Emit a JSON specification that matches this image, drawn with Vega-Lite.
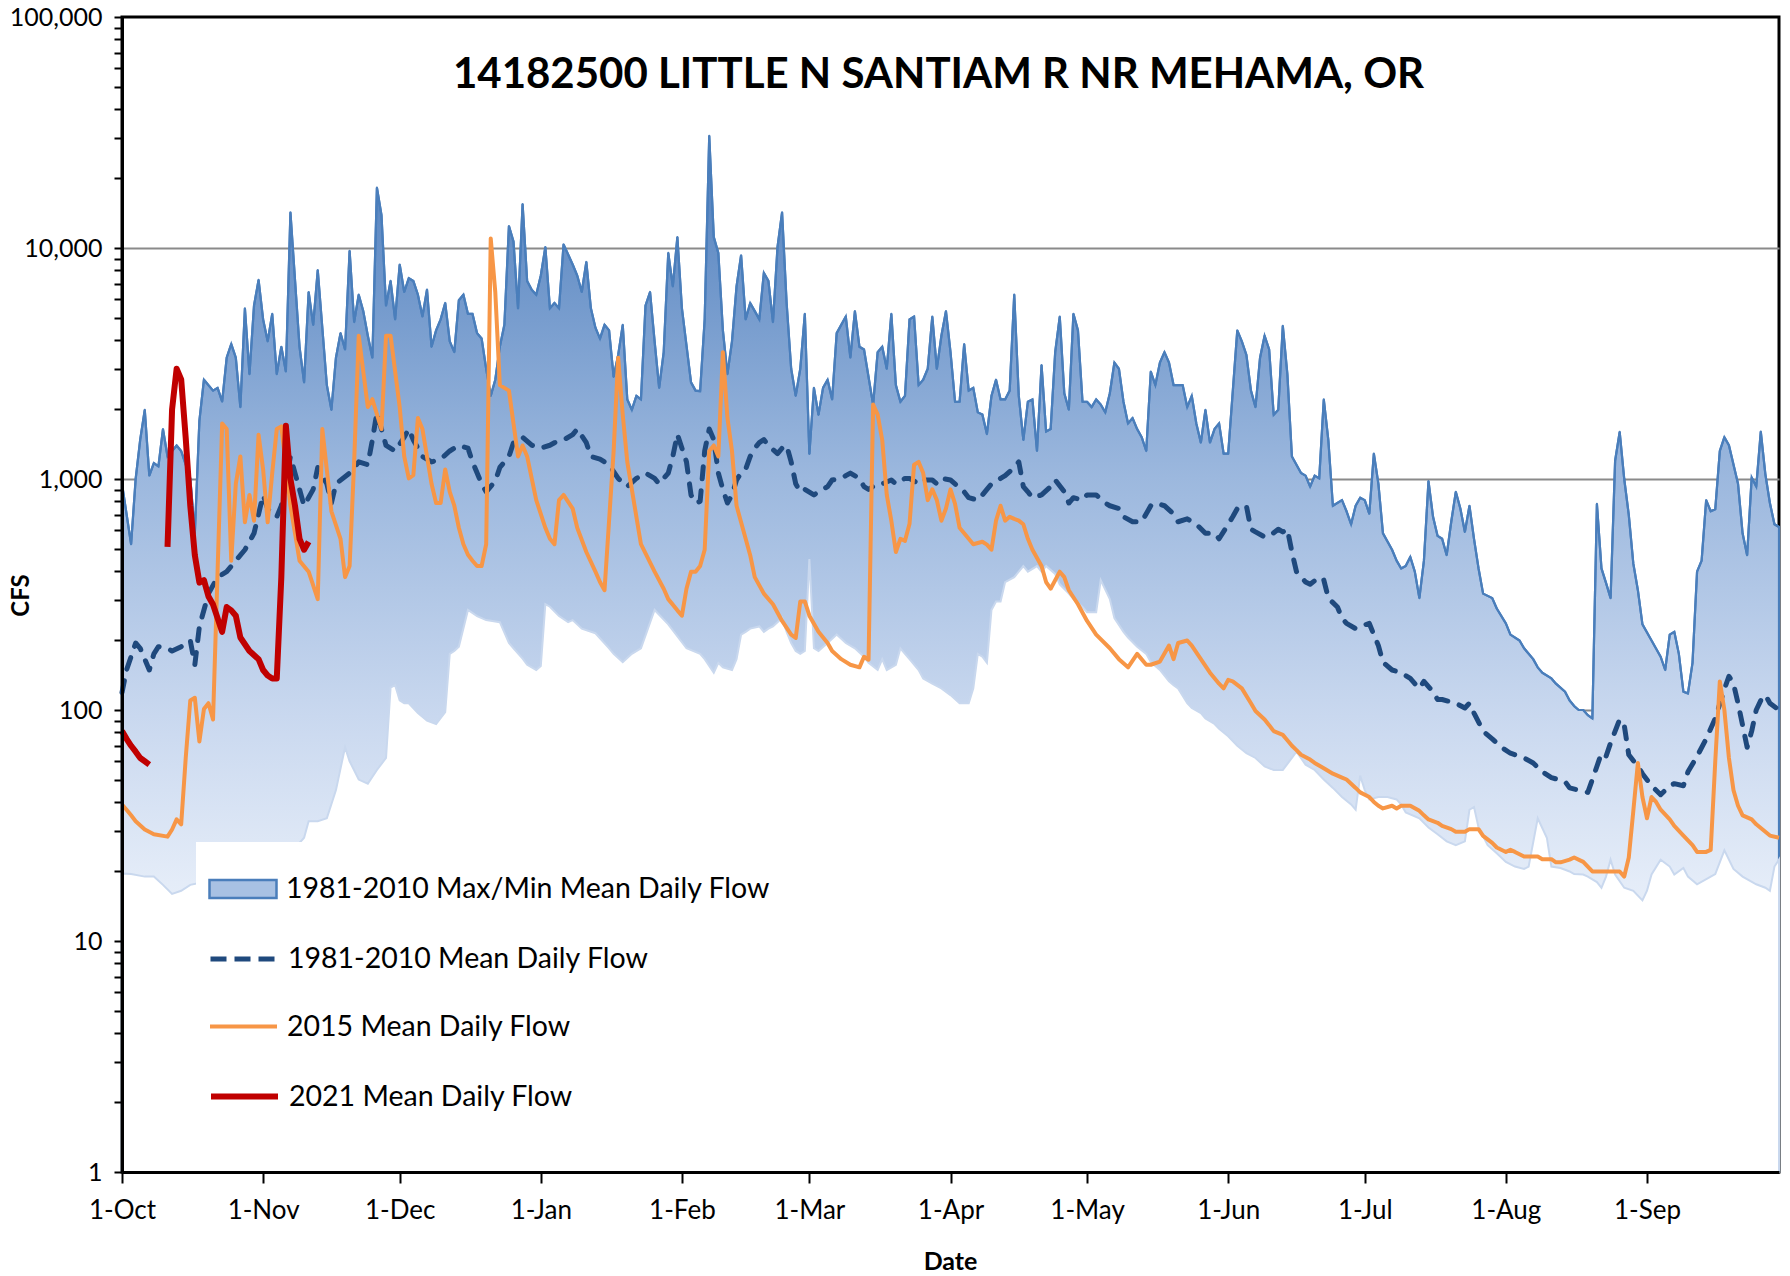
{
  "$schema": "https://vega.github.io/schema/vega-lite/v6.json",
  "width": 1657,
  "height": 1155,
  "autosize": {"type": "none"},
  "padding": {"left": 122, "top": 17, "right": 11, "bottom": 104},
  "background": "white",
  "title": {"text": "14182500 LITTLE N SANTIAM R NR MEHAMA, OR", "frame": "group", "anchor": "middle", "orient": "top", "offset": -72, "dy": 53, "baseline": "alphabetic", "font": "Lato", "fontSize": 42, "fontWeight": "bold", "color": "black", "dx": -12},
  "config": {
    "view": {"stroke": "black", "strokeWidth": 3},
    "axis": {"labelFont": "Lato", "labelColor": "black", "titleFont": "Lato", "titleColor": "black", "titleFontWeight": "bold", "domainColor": "black", "domainWidth": 3, "tickColor": "black", "tickWidth": 2},
    "legend": {"fillColor": "white", "padding": 12, "labelFont": "Lato", "labelFontSize": 28.5, "labelColor": "black", "labelLimit": 800, "labelOffset": 8, "symbolSize": 4489}
  },
  "resolve": {"scale": {"color": "independent"}, "axis": {"y": "independent"}},
  "datasets": {
    "maxflow": [
      {"date":"2014-10-01","cfs":953},{"date":"2014-10-03","cfs":522},{"date":"2014-10-04","cfs":1000},{"date":"2014-10-05","cfs":1480},{"date":"2014-10-06","cfs":1993},{"date":"2014-10-07","cfs":1034},{"date":"2014-10-08","cfs":1172},{"date":"2014-10-09","cfs":1134},{"date":"2014-10-10","cfs":1645},{"date":"2014-10-11","cfs":1252},{"date":"2014-10-13","cfs":1397},{"date":"2014-10-14","cfs":1322},{"date":"2014-10-16","cfs":1006},{"date":"2014-10-17","cfs":582},{"date":"2014-10-18","cfs":1786},{"date":"2014-10-19","cfs":2690},{"date":"2014-10-21","cfs":2413},{"date":"2014-10-22","cfs":2480},{"date":"2014-10-23","cfs":2163},{"date":"2014-10-24","cfs":3350},{"date":"2014-10-25","cfs":3840},{"date":"2014-10-26","cfs":3350},{"date":"2014-10-27","cfs":2048},{"date":"2014-10-28","cfs":5480},{"date":"2014-10-29","cfs":2843},{"date":"2014-10-30","cfs":5630},{"date":"2014-10-31","cfs":7280},
      {"date":"2014-11-01","cfs":4910},{"date":"2014-11-02","cfs":3945},{"date":"2014-11-03","cfs":5185},{"date":"2014-11-04","cfs":2843},{"date":"2014-11-05","cfs":3735},{"date":"2014-11-06","cfs":2920},{"date":"2014-11-07","cfs":14260},{"date":"2014-11-09","cfs":3735},{"date":"2014-11-10","cfs":2620},{"date":"2014-11-11","cfs":6450},{"date":"2014-11-12","cfs":4650},{"date":"2014-11-13","cfs":8030},{"date":"2014-11-15","cfs":2550},{"date":"2014-11-16","cfs":1993},{"date":"2014-11-17","cfs":3350},{"date":"2014-11-18","cfs":4280},{"date":"2014-11-19","cfs":3635},{"date":"2014-11-20","cfs":9720},{"date":"2014-11-21","cfs":4780},{"date":"2014-11-22","cfs":6280},{"date":"2014-11-23","cfs":5330},{"date":"2014-11-24","cfs":4170},{"date":"2014-11-25","cfs":3350},{"date":"2014-11-26","cfs":18240},{"date":"2014-11-27","cfs":13880},{"date":"2014-11-28","cfs":5630},{"date":"2014-11-29","cfs":7200},{"date":"2014-11-30","cfs":4910},
      {"date":"2014-12-01","cfs":8485},{"date":"2014-12-02","cfs":6450},{"date":"2014-12-03","cfs":7400},{"date":"2014-12-04","cfs":7200},{"date":"2014-12-05","cfs":6280},{"date":"2014-12-06","cfs":5050},{"date":"2014-12-07","cfs":6600},{"date":"2014-12-08","cfs":3735},{"date":"2014-12-09","cfs":4400},{"date":"2014-12-10","cfs":4910},{"date":"2014-12-11","cfs":5780},{"date":"2014-12-12","cfs":3945},{"date":"2014-12-13","cfs":3540},{"date":"2014-12-14","cfs":5940},{"date":"2014-12-15","cfs":6280},{"date":"2014-12-16","cfs":5185},{"date":"2014-12-17","cfs":5185},{"date":"2014-12-18","cfs":4280},{"date":"2014-12-19","cfs":4055},{"date":"2014-12-20","cfs":3000},{"date":"2014-12-21","cfs":2290},{"date":"2014-12-22","cfs":2690},{"date":"2014-12-23","cfs":3735},{"date":"2014-12-24","cfs":4650},{"date":"2014-12-25","cfs":12450},{"date":"2014-12-26","cfs":10670},{"date":"2014-12-27","cfs":5480},{"date":"2014-12-28","cfs":15500},{"date":"2014-12-29","cfs":7200},{"date":"2014-12-30","cfs":6600},{"date":"2014-12-31","cfs":6280},
      {"date":"2015-01-01","cfs":7600},{"date":"2015-01-02","cfs":10100},{"date":"2015-01-03","cfs":5480},{"date":"2015-01-04","cfs":5780},{"date":"2015-01-05","cfs":5480},{"date":"2015-01-06","cfs":10370},{"date":"2015-01-08","cfs":8485},{"date":"2015-01-09","cfs":7600},{"date":"2015-01-10","cfs":6450},{"date":"2015-01-11","cfs":8700},{"date":"2015-01-12","cfs":5480},{"date":"2015-01-13","cfs":4520},{"date":"2015-01-14","cfs":4055},{"date":"2015-01-15","cfs":4650},{"date":"2015-01-16","cfs":4400},{"date":"2015-01-17","cfs":2770},{"date":"2015-01-18","cfs":3445},{"date":"2015-01-19","cfs":4650},{"date":"2015-01-20","cfs":2210},{"date":"2015-01-21","cfs":1993},{"date":"2015-01-22","cfs":2290},{"date":"2015-01-23","cfs":2210},{"date":"2015-01-24","cfs":5630},{"date":"2015-01-25","cfs":6450},{"date":"2015-01-26","cfs":3945},{"date":"2015-01-27","cfs":2480},{"date":"2015-01-28","cfs":3540},{"date":"2015-01-29","cfs":9520},{"date":"2015-01-30","cfs":6820},{"date":"2015-01-31","cfs":11150},
      {"date":"2015-02-01","cfs":5480},{"date":"2015-02-03","cfs":2620},{"date":"2015-02-04","cfs":2413},{"date":"2015-02-05","cfs":2400},{"date":"2015-02-06","cfs":4910},{"date":"2015-02-07","cfs":30600},{"date":"2015-02-08","cfs":11150},{"date":"2015-02-09","cfs":9520},{"date":"2015-02-10","cfs":4400},{"date":"2015-02-11","cfs":2843},{"date":"2015-02-12","cfs":3945},{"date":"2015-02-13","cfs":6820},{"date":"2015-02-14","cfs":9300},{"date":"2015-02-15","cfs":4910},{"date":"2015-02-16","cfs":5780},{"date":"2015-02-17","cfs":5330},{"date":"2015-02-18","cfs":4910},{"date":"2015-02-19","cfs":7800},{"date":"2015-02-20","cfs":7200},{"date":"2015-02-21","cfs":4780},{"date":"2015-02-22","cfs":10100},{"date":"2015-02-23","cfs":14260},{"date":"2015-02-24","cfs":5780},{"date":"2015-02-25","cfs":3000},{"date":"2015-02-26","cfs":2290},{"date":"2015-02-27","cfs":3000},{"date":"2015-02-28","cfs":5185},
      {"date":"2015-03-01","cfs":1283},{"date":"2015-03-02","cfs":2480},{"date":"2015-03-03","cfs":1895},{"date":"2015-03-04","cfs":2480},{"date":"2015-03-05","cfs":2690},{"date":"2015-03-06","cfs":2210},{"date":"2015-03-07","cfs":4280},{"date":"2015-03-09","cfs":5050},{"date":"2015-03-10","cfs":3350},{"date":"2015-03-11","cfs":5330},{"date":"2015-03-12","cfs":3735},{"date":"2015-03-13","cfs":3635},{"date":"2015-03-15","cfs":2100},{"date":"2015-03-16","cfs":3540},{"date":"2015-03-17","cfs":3735},{"date":"2015-03-18","cfs":3000},{"date":"2015-03-19","cfs":5185},{"date":"2015-03-20","cfs":2550},{"date":"2015-03-21","cfs":2160},{"date":"2015-03-22","cfs":2290},{"date":"2015-03-23","cfs":4910},{"date":"2015-03-24","cfs":5050},{"date":"2015-03-25","cfs":2550},{"date":"2015-03-26","cfs":2690},{"date":"2015-03-27","cfs":3000},{"date":"2015-03-28","cfs":5050},{"date":"2015-03-29","cfs":3000},{"date":"2015-03-30","cfs":4170},{"date":"2015-03-31","cfs":5330},
      {"date":"2015-04-01","cfs":3540},{"date":"2015-04-02","cfs":2160},{"date":"2015-04-03","cfs":2160},{"date":"2015-04-04","cfs":3840},{"date":"2015-04-05","cfs":2413},{"date":"2015-04-06","cfs":2480},{"date":"2015-04-07","cfs":1943},{"date":"2015-04-08","cfs":1900},{"date":"2015-04-09","cfs":1565},{"date":"2015-04-10","cfs":2290},{"date":"2015-04-11","cfs":2690},{"date":"2015-04-12","cfs":2210},{"date":"2015-04-13","cfs":2210},{"date":"2015-04-14","cfs":2413},{"date":"2015-04-15","cfs":6280},{"date":"2015-04-16","cfs":2290},{"date":"2015-04-17","cfs":1475},{"date":"2015-04-18","cfs":2160},{"date":"2015-04-19","cfs":2210},{"date":"2015-04-20","cfs":1322},{"date":"2015-04-21","cfs":3110},{"date":"2015-04-22","cfs":1605},{"date":"2015-04-23","cfs":1645},{"date":"2015-04-24","cfs":3540},{"date":"2015-04-25","cfs":5050},{"date":"2015-04-26","cfs":2350},{"date":"2015-04-27","cfs":1993},{"date":"2015-04-28","cfs":5185},{"date":"2015-04-29","cfs":4400},{"date":"2015-04-30","cfs":2160},
      {"date":"2015-05-01","cfs":2160},{"date":"2015-05-02","cfs":2048},{"date":"2015-05-03","cfs":2210},{"date":"2015-05-04","cfs":2100},{"date":"2015-05-05","cfs":1943},{"date":"2015-05-06","cfs":2350},{"date":"2015-05-07","cfs":3190},{"date":"2015-05-08","cfs":3000},{"date":"2015-05-09","cfs":2160},{"date":"2015-05-10","cfs":1740},{"date":"2015-05-11","cfs":1836},{"date":"2015-05-12","cfs":1645},{"date":"2015-05-13","cfs":1517},{"date":"2015-05-14","cfs":1322},{"date":"2015-05-15","cfs":2920},{"date":"2015-05-16","cfs":2550},{"date":"2015-05-17","cfs":3190},{"date":"2015-05-18","cfs":3540},{"date":"2015-05-19","cfs":3190},{"date":"2015-05-20","cfs":2550},{"date":"2015-05-22","cfs":2550},{"date":"2015-05-23","cfs":2048},{"date":"2015-05-24","cfs":2290},{"date":"2015-05-25","cfs":1740},{"date":"2015-05-26","cfs":1436},{"date":"2015-05-27","cfs":1993},{"date":"2015-05-28","cfs":1436},{"date":"2015-05-29","cfs":1645},{"date":"2015-05-30","cfs":1740},{"date":"2015-05-31","cfs":1287},
      {"date":"2015-06-01","cfs":1287},{"date":"2015-06-03","cfs":4400},{"date":"2015-06-04","cfs":3945},{"date":"2015-06-05","cfs":3445},{"date":"2015-06-06","cfs":2413},{"date":"2015-06-07","cfs":2048},{"date":"2015-06-08","cfs":3350},{"date":"2015-06-09","cfs":4170},{"date":"2015-06-10","cfs":3635},{"date":"2015-06-11","cfs":1895},{"date":"2015-06-12","cfs":1993},{"date":"2015-06-13","cfs":4600},{"date":"2015-06-14","cfs":2843},{"date":"2015-06-15","cfs":1252},{"date":"2015-06-16","cfs":1153},{"date":"2015-06-17","cfs":1061},{"date":"2015-06-18","cfs":1034},{"date":"2015-06-19","cfs":927},{"date":"2015-06-20","cfs":1034},{"date":"2015-06-21","cfs":1006},{"date":"2015-06-22","cfs":2210},{"date":"2015-06-23","cfs":1475},{"date":"2015-06-24","cfs":766},{"date":"2015-06-26","cfs":810},{"date":"2015-06-27","cfs":725},{"date":"2015-06-28","cfs":637},{"date":"2015-06-29","cfs":766},{"date":"2015-06-30","cfs":830},
      {"date":"2015-07-01","cfs":810},{"date":"2015-07-02","cfs":707},{"date":"2015-07-03","cfs":1287},{"date":"2015-07-04","cfs":953},{"date":"2015-07-05","cfs":582},{"date":"2015-07-07","cfs":494},{"date":"2015-07-08","cfs":443},{"date":"2015-07-09","cfs":410},{"date":"2015-07-10","cfs":420},{"date":"2015-07-11","cfs":460},{"date":"2015-07-12","cfs":397},{"date":"2015-07-13","cfs":305},{"date":"2015-07-14","cfs":443},{"date":"2015-07-15","cfs":980},{"date":"2015-07-16","cfs":686},{"date":"2015-07-17","cfs":567},{"date":"2015-07-18","cfs":551},{"date":"2015-07-19","cfs":468},{"date":"2015-07-20","cfs":653},{"date":"2015-07-21","cfs":880},{"date":"2015-07-22","cfs":745},{"date":"2015-07-23","cfs":590},{"date":"2015-07-24","cfs":766},{"date":"2015-07-25","cfs":551},{"date":"2015-07-26","cfs":410},{"date":"2015-07-27","cfs":319},{"date":"2015-07-29","cfs":305},{"date":"2015-07-30","cfs":275},
      {"date":"2015-08-01","cfs":237},{"date":"2015-08-02","cfs":212},{"date":"2015-08-04","cfs":200},{"date":"2015-08-05","cfs":185},{"date":"2015-08-07","cfs":166},{"date":"2015-08-08","cfs":153},{"date":"2015-08-09","cfs":145},{"date":"2015-08-11","cfs":137},{"date":"2015-08-12","cfs":130},{"date":"2015-08-14","cfs":120},{"date":"2015-08-15","cfs":110},{"date":"2015-08-16","cfs":104},{"date":"2015-08-17","cfs":100},{"date":"2015-08-18","cfs":100},{"date":"2015-08-19","cfs":95},{"date":"2015-08-20","cfs":92},{"date":"2015-08-21","cfs":780},{"date":"2015-08-22","cfs":410},{"date":"2015-08-23","cfs":355},{"date":"2015-08-24","cfs":305},{"date":"2015-08-25","cfs":1200},{"date":"2015-08-26","cfs":1600},{"date":"2015-08-27","cfs":1000},{"date":"2015-08-28","cfs":700},{"date":"2015-08-29","cfs":430},{"date":"2015-08-30","cfs":330},{"date":"2015-08-31","cfs":235},
      {"date":"2015-09-02","cfs":200},{"date":"2015-09-04","cfs":170},{"date":"2015-09-05","cfs":149},{"date":"2015-09-06","cfs":212},{"date":"2015-09-07","cfs":218},{"date":"2015-09-08","cfs":175},{"date":"2015-09-09","cfs":120},{"date":"2015-09-10","cfs":118},{"date":"2015-09-11","cfs":160},{"date":"2015-09-12","cfs":397},{"date":"2015-09-13","cfs":443},{"date":"2015-09-14","cfs":810},{"date":"2015-09-15","cfs":725},{"date":"2015-09-16","cfs":740},{"date":"2015-09-17","cfs":1322},{"date":"2015-09-18","cfs":1517},{"date":"2015-09-19","cfs":1400},{"date":"2015-09-21","cfs":953},{"date":"2015-09-22","cfs":582},{"date":"2015-09-23","cfs":468},{"date":"2015-09-24","cfs":1015},{"date":"2015-09-25","cfs":927},{"date":"2015-09-26","cfs":1605},{"date":"2015-09-27","cfs":1050},{"date":"2015-09-28","cfs":787},{"date":"2015-09-29","cfs":637},{"date":"2015-09-30","cfs":620}
    ],
    "minflow": [
      {"date":"2014-10-01","cfs":19.6},{"date":"2014-10-03","cfs":19.5},{"date":"2014-10-06","cfs":19},{"date":"2014-10-08","cfs":19},{"date":"2014-10-10","cfs":17.5},{"date":"2014-10-12","cfs":16},{"date":"2014-10-14","cfs":16.5},{"date":"2014-10-16","cfs":17.5},{"date":"2014-10-19","cfs":18},{"date":"2014-10-23","cfs":19},{"date":"2014-10-27","cfs":20},{"date":"2014-10-31","cfs":23},
      {"date":"2014-11-02","cfs":25},{"date":"2014-11-04","cfs":22},{"date":"2014-11-07","cfs":24},{"date":"2014-11-10","cfs":28},{"date":"2014-11-11","cfs":33},{"date":"2014-11-13","cfs":33},{"date":"2014-11-15","cfs":34},{"date":"2014-11-17","cfs":45},{"date":"2014-11-19","cfs":69},{"date":"2014-11-20","cfs":60},{"date":"2014-11-22","cfs":50},{"date":"2014-11-24","cfs":48},{"date":"2014-11-26","cfs":55},{"date":"2014-11-28","cfs":62},{"date":"2014-11-29","cfs":125},{"date":"2014-11-30","cfs":128},
      {"date":"2014-12-01","cfs":110},{"date":"2014-12-02","cfs":107},{"date":"2014-12-03","cfs":107},{"date":"2014-12-05","cfs":97},{"date":"2014-12-07","cfs":90},{"date":"2014-12-09","cfs":87},{"date":"2014-12-11","cfs":98},{"date":"2014-12-12","cfs":175},{"date":"2014-12-13","cfs":180},{"date":"2014-12-14","cfs":188},{"date":"2014-12-16","cfs":271},{"date":"2014-12-18","cfs":255},{"date":"2014-12-20","cfs":245},{"date":"2014-12-23","cfs":240},{"date":"2014-12-25","cfs":195},{"date":"2014-12-26","cfs":185},{"date":"2014-12-28","cfs":167},{"date":"2014-12-29","cfs":157},{"date":"2014-12-31","cfs":149},
      {"date":"2015-01-01","cfs":155},{"date":"2015-01-02","cfs":287},{"date":"2015-01-03","cfs":280},{"date":"2015-01-05","cfs":255},{"date":"2015-01-07","cfs":240},{"date":"2015-01-08","cfs":245},{"date":"2015-01-10","cfs":225},{"date":"2015-01-13","cfs":215},{"date":"2015-01-16","cfs":185},{"date":"2015-01-17","cfs":175},{"date":"2015-01-19","cfs":161},{"date":"2015-01-21","cfs":175},{"date":"2015-01-23","cfs":185},{"date":"2015-01-26","cfs":271},{"date":"2015-01-29","cfs":235},
      {"date":"2015-02-02","cfs":185},{"date":"2015-02-05","cfs":175},{"date":"2015-02-06","cfs":166},{"date":"2015-02-08","cfs":145},{"date":"2015-02-09","cfs":160},{"date":"2015-02-10","cfs":153},{"date":"2015-02-12","cfs":149},{"date":"2015-02-13","cfs":166},{"date":"2015-02-14","cfs":212},{"date":"2015-02-15","cfs":218},{"date":"2015-02-16","cfs":225},{"date":"2015-02-18","cfs":230},{"date":"2015-02-19","cfs":218},{"date":"2015-02-20","cfs":225},{"date":"2015-02-21","cfs":230},{"date":"2015-02-23","cfs":250},{"date":"2015-02-24","cfs":218},{"date":"2015-02-25","cfs":195},{"date":"2015-02-26","cfs":180},{"date":"2015-02-27","cfs":175},{"date":"2015-02-28","cfs":180},
      {"date":"2015-03-01","cfs":450},{"date":"2015-03-02","cfs":185},{"date":"2015-03-03","cfs":180},{"date":"2015-03-05","cfs":195},{"date":"2015-03-07","cfs":212},{"date":"2015-03-09","cfs":195},{"date":"2015-03-11","cfs":185},{"date":"2015-03-13","cfs":170},{"date":"2015-03-14","cfs":160},{"date":"2015-03-16","cfs":149},{"date":"2015-03-17","cfs":166},{"date":"2015-03-18","cfs":149},{"date":"2015-03-20","cfs":157},{"date":"2015-03-21","cfs":185},{"date":"2015-03-22","cfs":175},{"date":"2015-03-23","cfs":166},{"date":"2015-03-25","cfs":149},{"date":"2015-03-26","cfs":137},{"date":"2015-03-28","cfs":130},{"date":"2015-03-30","cfs":124},
      {"date":"2015-04-01","cfs":116},{"date":"2015-04-03","cfs":107},{"date":"2015-04-05","cfs":107},{"date":"2015-04-06","cfs":124},{"date":"2015-04-07","cfs":175},{"date":"2015-04-08","cfs":170},{"date":"2015-04-09","cfs":160},{"date":"2015-04-10","cfs":271},{"date":"2015-04-11","cfs":295},{"date":"2015-04-12","cfs":295},{"date":"2015-04-13","cfs":358},{"date":"2015-04-15","cfs":376},{"date":"2015-04-16","cfs":397},{"date":"2015-04-17","cfs":420},{"date":"2015-04-18","cfs":397},{"date":"2015-04-20","cfs":420},{"date":"2015-04-21","cfs":397},{"date":"2015-04-22","cfs":420},{"date":"2015-04-24","cfs":388},{"date":"2015-04-25","cfs":350},{"date":"2015-04-27","cfs":319},{"date":"2015-04-28","cfs":302},{"date":"2015-04-30","cfs":279},
      {"date":"2015-05-01","cfs":265},{"date":"2015-05-03","cfs":265},{"date":"2015-05-04","cfs":365},{"date":"2015-05-06","cfs":302},{"date":"2015-05-07","cfs":250},{"date":"2015-05-09","cfs":218},{"date":"2015-05-10","cfs":206},{"date":"2015-05-12","cfs":188},{"date":"2015-05-14","cfs":175},{"date":"2015-05-15","cfs":161},{"date":"2015-05-17","cfs":149},{"date":"2015-05-19","cfs":133},{"date":"2015-05-20","cfs":128},{"date":"2015-05-21","cfs":124},{"date":"2015-05-23","cfs":107},{"date":"2015-05-24","cfs":102},{"date":"2015-05-26","cfs":97},{"date":"2015-05-27","cfs":92},{"date":"2015-05-29","cfs":87},{"date":"2015-05-30","cfs":83},
      {"date":"2015-06-01","cfs":77},{"date":"2015-06-03","cfs":70},{"date":"2015-06-05","cfs":65},{"date":"2015-06-07","cfs":62},{"date":"2015-06-09","cfs":57},{"date":"2015-06-11","cfs":55},{"date":"2015-06-13","cfs":55},{"date":"2015-06-15","cfs":62},{"date":"2015-06-16","cfs":66},{"date":"2015-06-18","cfs":58},{"date":"2015-06-20","cfs":55},{"date":"2015-06-22","cfs":50},{"date":"2015-06-24","cfs":46},{"date":"2015-06-26","cfs":42},{"date":"2015-06-28","cfs":39},{"date":"2015-06-29","cfs":37},{"date":"2015-06-30","cfs":52},
      {"date":"2015-07-01","cfs":45},{"date":"2015-07-02","cfs":41},{"date":"2015-07-04","cfs":42},{"date":"2015-07-06","cfs":42},{"date":"2015-07-08","cfs":41},{"date":"2015-07-09","cfs":39},{"date":"2015-07-10","cfs":36},{"date":"2015-07-13","cfs":34},{"date":"2015-07-15","cfs":31},{"date":"2015-07-17","cfs":29},{"date":"2015-07-19","cfs":27},{"date":"2015-07-21","cfs":26},{"date":"2015-07-23","cfs":27},{"date":"2015-07-24","cfs":37},{"date":"2015-07-25","cfs":38},{"date":"2015-07-26","cfs":31},{"date":"2015-07-28","cfs":26},{"date":"2015-07-30","cfs":24},
      {"date":"2015-08-01","cfs":22},{"date":"2015-08-03","cfs":21},{"date":"2015-08-05","cfs":20.5},{"date":"2015-08-06","cfs":21},{"date":"2015-08-08","cfs":34},{"date":"2015-08-10","cfs":28},{"date":"2015-08-11","cfs":21},{"date":"2015-08-13","cfs":20.7},{"date":"2015-08-15","cfs":20},{"date":"2015-08-16","cfs":19.5},{"date":"2015-08-18","cfs":19.4},{"date":"2015-08-19","cfs":19},{"date":"2015-08-21","cfs":18},{"date":"2015-08-22","cfs":17},{"date":"2015-08-23","cfs":19},{"date":"2015-08-24","cfs":22.5},{"date":"2015-08-25","cfs":19.4},{"date":"2015-08-27","cfs":17},{"date":"2015-08-29","cfs":16.5},{"date":"2015-08-31","cfs":15},
      {"date":"2015-09-01","cfs":16.5},{"date":"2015-09-02","cfs":19.4},{"date":"2015-09-04","cfs":22.5},{"date":"2015-09-06","cfs":21},{"date":"2015-09-07","cfs":19.4},{"date":"2015-09-09","cfs":20.7},{"date":"2015-09-10","cfs":19},{"date":"2015-09-12","cfs":17.6},{"date":"2015-09-15","cfs":19},{"date":"2015-09-16","cfs":19.5},{"date":"2015-09-18","cfs":24.7},{"date":"2015-09-20","cfs":20.5},{"date":"2015-09-22","cfs":19},{"date":"2015-09-25","cfs":17.6},{"date":"2015-09-27","cfs":17},{"date":"2015-09-28","cfs":16.5},{"date":"2015-09-29","cfs":21},{"date":"2015-09-30","cfs":22.5}
    ],
    "meanflow": [
      {"date":"2014-10-01","cfs":119},{"date":"2014-10-02","cfs":149},{"date":"2014-10-04","cfs":195},{"date":"2014-10-05","cfs":185},{"date":"2014-10-07","cfs":149},{"date":"2014-10-08","cfs":175},{"date":"2014-10-09","cfs":188},{"date":"2014-10-11","cfs":185},{"date":"2014-10-12","cfs":180},{"date":"2014-10-14","cfs":188},{"date":"2014-10-16","cfs":200},{"date":"2014-10-17","cfs":157},{"date":"2014-10-18","cfs":230},{"date":"2014-10-20","cfs":319},{"date":"2014-10-22","cfs":376},{"date":"2014-10-24","cfs":397},{"date":"2014-10-26","cfs":443},{"date":"2014-10-28","cfs":494},{"date":"2014-10-30","cfs":582},
      {"date":"2014-11-01","cfs":853},{"date":"2014-11-02","cfs":745},{"date":"2014-11-04","cfs":686},{"date":"2014-11-05","cfs":766},{"date":"2014-11-07","cfs":1252},{"date":"2014-11-08","cfs":1061},{"date":"2014-11-10","cfs":766},{"date":"2014-11-12","cfs":902},{"date":"2014-11-13","cfs":1122},{"date":"2014-11-15","cfs":953},{"date":"2014-11-16","cfs":787},{"date":"2014-11-17","cfs":953},{"date":"2014-11-20","cfs":1061},{"date":"2014-11-22","cfs":1186},{"date":"2014-11-24","cfs":1153},{"date":"2014-11-25","cfs":1475},{"date":"2014-11-26","cfs":1940},{"date":"2014-11-27","cfs":1645},{"date":"2014-11-28","cfs":1397},{"date":"2014-11-30","cfs":1322},
      {"date":"2014-12-02","cfs":1517},{"date":"2014-12-03","cfs":1645},{"date":"2014-12-04","cfs":1475},{"date":"2014-12-06","cfs":1252},{"date":"2014-12-08","cfs":1186},{"date":"2014-12-10","cfs":1220},{"date":"2014-12-12","cfs":1322},{"date":"2014-12-14","cfs":1397},{"date":"2014-12-16","cfs":1360},{"date":"2014-12-17","cfs":1186},{"date":"2014-12-19","cfs":953},{"date":"2014-12-20","cfs":880},{"date":"2014-12-22","cfs":980},{"date":"2014-12-23","cfs":1122},{"date":"2014-12-25","cfs":1252},{"date":"2014-12-26","cfs":1436},{"date":"2014-12-28","cfs":1517},{"date":"2014-12-30","cfs":1400},
      {"date":"2015-01-01","cfs":1360},{"date":"2015-01-03","cfs":1400},{"date":"2015-01-04","cfs":1436},{"date":"2015-01-06","cfs":1475},{"date":"2015-01-08","cfs":1556},{"date":"2015-01-09","cfs":1645},{"date":"2015-01-11","cfs":1436},{"date":"2015-01-12","cfs":1252},{"date":"2015-01-14","cfs":1220},{"date":"2015-01-16","cfs":1153},{"date":"2015-01-18","cfs":1006},{"date":"2015-01-20","cfs":927},{"date":"2015-01-22","cfs":1006},{"date":"2015-01-24","cfs":1061},{"date":"2015-01-26","cfs":1006},{"date":"2015-01-27","cfs":953},{"date":"2015-01-29","cfs":1061},{"date":"2015-01-30","cfs":1252},{"date":"2015-01-31","cfs":1560},
      {"date":"2015-02-02","cfs":1186},{"date":"2015-02-03","cfs":853},{"date":"2015-02-04","cfs":787},{"date":"2015-02-05","cfs":800},{"date":"2015-02-06","cfs":1322},{"date":"2015-02-07","cfs":1645},{"date":"2015-02-08","cfs":1480},{"date":"2015-02-09","cfs":1061},{"date":"2015-02-10","cfs":902},{"date":"2015-02-11","cfs":787},{"date":"2015-02-12","cfs":853},{"date":"2015-02-13","cfs":990},{"date":"2015-02-14","cfs":1061},{"date":"2015-02-15","cfs":1103},{"date":"2015-02-16","cfs":1252},{"date":"2015-02-17","cfs":1360},{"date":"2015-02-18","cfs":1436},{"date":"2015-02-19","cfs":1480},{"date":"2015-02-20","cfs":1397},{"date":"2015-02-22","cfs":1287},{"date":"2015-02-23","cfs":1360},{"date":"2015-02-24","cfs":1397},{"date":"2015-02-25","cfs":1186},{"date":"2015-02-26","cfs":953},{"date":"2015-02-27","cfs":880},{"date":"2015-02-28","cfs":902},
      {"date":"2015-03-02","cfs":853},{"date":"2015-03-03","cfs":880},{"date":"2015-03-05","cfs":927},{"date":"2015-03-06","cfs":990},{"date":"2015-03-08","cfs":1006},{"date":"2015-03-09","cfs":1034},{"date":"2015-03-10","cfs":1061},{"date":"2015-03-12","cfs":1006},{"date":"2015-03-13","cfs":927},{"date":"2015-03-14","cfs":902},{"date":"2015-03-16","cfs":953},{"date":"2015-03-17","cfs":953},{"date":"2015-03-19","cfs":990},{"date":"2015-03-20","cfs":953},{"date":"2015-03-22","cfs":1006},{"date":"2015-03-23","cfs":1006},{"date":"2015-03-25","cfs":953},{"date":"2015-03-26","cfs":990},{"date":"2015-03-28","cfs":990},{"date":"2015-03-29","cfs":953},{"date":"2015-03-30","cfs":1006},
      {"date":"2015-04-01","cfs":990},{"date":"2015-04-02","cfs":953},{"date":"2015-04-04","cfs":880},{"date":"2015-04-05","cfs":830},{"date":"2015-04-07","cfs":810},{"date":"2015-04-08","cfs":853},{"date":"2015-04-09","cfs":902},{"date":"2015-04-10","cfs":953},{"date":"2015-04-12","cfs":1006},{"date":"2015-04-13","cfs":1034},{"date":"2015-04-15","cfs":1122},{"date":"2015-04-16","cfs":1186},{"date":"2015-04-17","cfs":927},{"date":"2015-04-18","cfs":880},{"date":"2015-04-19","cfs":830},{"date":"2015-04-21","cfs":853},{"date":"2015-04-23","cfs":927},{"date":"2015-04-24","cfs":990},{"date":"2015-04-26","cfs":880},{"date":"2015-04-27","cfs":787},{"date":"2015-04-28","cfs":830},{"date":"2015-04-30","cfs":810},
      {"date":"2015-05-01","cfs":853},{"date":"2015-05-03","cfs":853},{"date":"2015-05-05","cfs":787},{"date":"2015-05-06","cfs":766},{"date":"2015-05-08","cfs":745},{"date":"2015-05-09","cfs":686},{"date":"2015-05-11","cfs":653},{"date":"2015-05-13","cfs":653},{"date":"2015-05-15","cfs":766},{"date":"2015-05-16","cfs":787},{"date":"2015-05-18","cfs":766},{"date":"2015-05-20","cfs":707},{"date":"2015-05-21","cfs":653},{"date":"2015-05-23","cfs":672},{"date":"2015-05-25","cfs":637},{"date":"2015-05-27","cfs":582},{"date":"2015-05-29","cfs":582},{"date":"2015-05-30","cfs":551},
      {"date":"2015-06-01","cfs":637},{"date":"2015-06-02","cfs":686},{"date":"2015-06-03","cfs":745},{"date":"2015-06-05","cfs":766},{"date":"2015-06-06","cfs":606},{"date":"2015-06-07","cfs":590},{"date":"2015-06-09","cfs":561},{"date":"2015-06-10","cfs":565},{"date":"2015-06-12","cfs":606},{"date":"2015-06-13","cfs":590},{"date":"2015-06-14","cfs":606},{"date":"2015-06-15","cfs":483},{"date":"2015-06-16","cfs":397},{"date":"2015-06-18","cfs":358},{"date":"2015-06-19","cfs":350},{"date":"2015-06-21","cfs":376},{"date":"2015-06-22","cfs":366},{"date":"2015-06-23","cfs":305},{"date":"2015-06-25","cfs":279},{"date":"2015-06-26","cfs":250},{"date":"2015-06-27","cfs":237},{"date":"2015-06-29","cfs":225},{"date":"2015-06-30","cfs":230},
      {"date":"2015-07-02","cfs":237},{"date":"2015-07-03","cfs":212},{"date":"2015-07-04","cfs":190},{"date":"2015-07-05","cfs":161},{"date":"2015-07-07","cfs":149},{"date":"2015-07-09","cfs":145},{"date":"2015-07-11","cfs":137},{"date":"2015-07-12","cfs":130},{"date":"2015-07-13","cfs":124},{"date":"2015-07-14","cfs":133},{"date":"2015-07-16","cfs":120},{"date":"2015-07-17","cfs":111},{"date":"2015-07-18","cfs":111},{"date":"2015-07-21","cfs":107},{"date":"2015-07-23","cfs":102},{"date":"2015-07-24","cfs":107},{"date":"2015-07-25","cfs":97},{"date":"2015-07-27","cfs":81},{"date":"2015-07-29","cfs":75},{"date":"2015-07-31","cfs":69},
      {"date":"2015-08-02","cfs":65},{"date":"2015-08-05","cfs":62},{"date":"2015-08-07","cfs":59},{"date":"2015-08-09","cfs":54},{"date":"2015-08-11","cfs":51},{"date":"2015-08-14","cfs":49},{"date":"2015-08-15","cfs":46},{"date":"2015-08-17","cfs":45},{"date":"2015-08-19","cfs":44},{"date":"2015-08-20","cfs":50},{"date":"2015-08-22","cfs":65},{"date":"2015-08-23","cfs":63},{"date":"2015-08-24","cfs":72},{"date":"2015-08-26","cfs":91},{"date":"2015-08-27","cfs":86},{"date":"2015-08-28","cfs":64},{"date":"2015-08-30","cfs":57},{"date":"2015-08-31","cfs":53},
      {"date":"2015-09-02","cfs":47},{"date":"2015-09-04","cfs":43},{"date":"2015-09-06","cfs":47},{"date":"2015-09-07","cfs":48},{"date":"2015-09-09","cfs":47},{"date":"2015-09-10","cfs":54},{"date":"2015-09-12","cfs":63},{"date":"2015-09-14","cfs":75},{"date":"2015-09-16","cfs":92},{"date":"2015-09-18","cfs":123},{"date":"2015-09-19","cfs":140},{"date":"2015-09-20","cfs":130},{"date":"2015-09-21","cfs":107},{"date":"2015-09-22","cfs":86},{"date":"2015-09-23","cfs":69},{"date":"2015-09-24","cfs":81},{"date":"2015-09-25","cfs":100},{"date":"2015-09-26","cfs":110},{"date":"2015-09-27","cfs":116},{"date":"2015-09-28","cfs":107},{"date":"2015-09-30","cfs":100}
    ],
    "flow2015": [
      {"date":"2014-10-01","cfs":39},{"date":"2014-10-02","cfs":37},{"date":"2014-10-03","cfs":35},{"date":"2014-10-04","cfs":33},{"date":"2014-10-06","cfs":30.4},{"date":"2014-10-08","cfs":29},{"date":"2014-10-11","cfs":28.3},{"date":"2014-10-12","cfs":30.4},{"date":"2014-10-13","cfs":33.6},{"date":"2014-10-14","cfs":32},{"date":"2014-10-15","cfs":62},{"date":"2014-10-16","cfs":110},{"date":"2014-10-17","cfs":113},{"date":"2014-10-18","cfs":73},{"date":"2014-10-19","cfs":101},{"date":"2014-10-20","cfs":107},{"date":"2014-10-21","cfs":91},{"date":"2014-10-22","cfs":400},{"date":"2014-10-23","cfs":1738},{"date":"2014-10-24","cfs":1645},{"date":"2014-10-25","cfs":443},{"date":"2014-10-26","cfs":953},{"date":"2014-10-27","cfs":1252},{"date":"2014-10-28","cfs":650},{"date":"2014-10-29","cfs":853},{"date":"2014-10-30","cfs":660},{"date":"2014-10-31","cfs":1556},
      {"date":"2014-11-01","cfs":1100},{"date":"2014-11-02","cfs":650},{"date":"2014-11-03","cfs":1061},{"date":"2014-11-04","cfs":1645},{"date":"2014-11-05","cfs":1690},{"date":"2014-11-07","cfs":766},{"date":"2014-11-09","cfs":443},{"date":"2014-11-11","cfs":397},{"date":"2014-11-13","cfs":302},{"date":"2014-11-14","cfs":1645},{"date":"2014-11-16","cfs":725},{"date":"2014-11-18","cfs":551},{"date":"2014-11-19","cfs":376},{"date":"2014-11-20","cfs":420},{"date":"2014-11-21","cfs":1186},{"date":"2014-11-22","cfs":4170},{"date":"2014-11-24","cfs":2048},{"date":"2014-11-25","cfs":2215},{"date":"2014-11-27","cfs":1645},{"date":"2014-11-28","cfs":4170},{"date":"2014-11-29","cfs":4170},
      {"date":"2014-12-01","cfs":2048},{"date":"2014-12-02","cfs":1252},{"date":"2014-12-03","cfs":1006},{"date":"2014-12-04","cfs":1040},{"date":"2014-12-05","cfs":1836},{"date":"2014-12-06","cfs":1645},{"date":"2014-12-07","cfs":1252},{"date":"2014-12-08","cfs":953},{"date":"2014-12-09","cfs":787},{"date":"2014-12-10","cfs":787},{"date":"2014-12-11","cfs":1100},{"date":"2014-12-12","cfs":880},{"date":"2014-12-13","cfs":766},{"date":"2014-12-14","cfs":615},{"date":"2014-12-15","cfs":522},{"date":"2014-12-16","cfs":470},{"date":"2014-12-17","cfs":443},{"date":"2014-12-18","cfs":420},{"date":"2014-12-19","cfs":420},{"date":"2014-12-20","cfs":522},{"date":"2014-12-21","cfs":11000},{"date":"2014-12-22","cfs":6450},{"date":"2014-12-23","cfs":2550},{"date":"2014-12-25","cfs":2413},{"date":"2014-12-26","cfs":1738},{"date":"2014-12-27","cfs":1252},{"date":"2014-12-28","cfs":1397},{"date":"2014-12-29","cfs":1252},{"date":"2014-12-31","cfs":810},
      {"date":"2015-01-02","cfs":615},{"date":"2015-01-03","cfs":551},{"date":"2015-01-04","cfs":522},{"date":"2015-01-05","cfs":810},{"date":"2015-01-06","cfs":853},{"date":"2015-01-08","cfs":745},{"date":"2015-01-09","cfs":615},{"date":"2015-01-11","cfs":483},{"date":"2015-01-13","cfs":397},{"date":"2015-01-14","cfs":358},{"date":"2015-01-15","cfs":330},{"date":"2015-01-17","cfs":1322},{"date":"2015-01-18","cfs":3350},{"date":"2015-01-19","cfs":1895},{"date":"2015-01-20","cfs":1186},{"date":"2015-01-22","cfs":686},{"date":"2015-01-23","cfs":522},{"date":"2015-01-26","cfs":397},{"date":"2015-01-28","cfs":335},{"date":"2015-01-29","cfs":302},{"date":"2015-01-31","cfs":270},
      {"date":"2015-02-01","cfs":256},{"date":"2015-02-02","cfs":335},{"date":"2015-02-03","cfs":397},{"date":"2015-02-04","cfs":397},{"date":"2015-02-05","cfs":420},{"date":"2015-02-06","cfs":494},{"date":"2015-02-07","cfs":1322},{"date":"2015-02-08","cfs":1397},{"date":"2015-02-09","cfs":1252},{"date":"2015-02-10","cfs":3540},{"date":"2015-02-11","cfs":1836},{"date":"2015-02-12","cfs":1322},{"date":"2015-02-13","cfs":766},{"date":"2015-02-15","cfs":551},{"date":"2015-02-16","cfs":468},{"date":"2015-02-17","cfs":376},{"date":"2015-02-19","cfs":319},{"date":"2015-02-21","cfs":287},{"date":"2015-02-23","cfs":243},{"date":"2015-02-25","cfs":212},{"date":"2015-02-26","cfs":205},{"date":"2015-02-27","cfs":295},{"date":"2015-02-28","cfs":295},
      {"date":"2015-03-01","cfs":256},{"date":"2015-03-03","cfs":218},{"date":"2015-03-05","cfs":195},{"date":"2015-03-06","cfs":180},{"date":"2015-03-08","cfs":166},{"date":"2015-03-10","cfs":157},{"date":"2015-03-12","cfs":153},{"date":"2015-03-13","cfs":170},{"date":"2015-03-14","cfs":165},{"date":"2015-03-15","cfs":2100},{"date":"2015-03-16","cfs":1900},{"date":"2015-03-17","cfs":1475},{"date":"2015-03-18","cfs":853},{"date":"2015-03-19","cfs":660},{"date":"2015-03-20","cfs":483},{"date":"2015-03-21","cfs":551},{"date":"2015-03-22","cfs":540},{"date":"2015-03-23","cfs":640},{"date":"2015-03-24","cfs":1153},{"date":"2015-03-25","cfs":1186},{"date":"2015-03-26","cfs":1061},{"date":"2015-03-27","cfs":810},{"date":"2015-03-28","cfs":902},{"date":"2015-03-29","cfs":810},{"date":"2015-03-30","cfs":660},{"date":"2015-03-31","cfs":745},
      {"date":"2015-04-01","cfs":902},{"date":"2015-04-02","cfs":780},{"date":"2015-04-03","cfs":615},{"date":"2015-04-05","cfs":551},{"date":"2015-04-06","cfs":522},{"date":"2015-04-08","cfs":535},{"date":"2015-04-09","cfs":520},{"date":"2015-04-10","cfs":494},{"date":"2015-04-11","cfs":660},{"date":"2015-04-12","cfs":766},{"date":"2015-04-13","cfs":660},{"date":"2015-04-14","cfs":686},{"date":"2015-04-15","cfs":672},{"date":"2015-04-16","cfs":660},{"date":"2015-04-17","cfs":637},{"date":"2015-04-18","cfs":551},{"date":"2015-04-19","cfs":494},{"date":"2015-04-21","cfs":420},{"date":"2015-04-22","cfs":358},{"date":"2015-04-23","cfs":335},{"date":"2015-04-25","cfs":397},{"date":"2015-04-26","cfs":376},{"date":"2015-04-27","cfs":330},{"date":"2015-04-29","cfs":287},
      {"date":"2015-05-01","cfs":243},{"date":"2015-05-03","cfs":212},{"date":"2015-05-06","cfs":185},{"date":"2015-05-08","cfs":166},{"date":"2015-05-10","cfs":153},{"date":"2015-05-12","cfs":175},{"date":"2015-05-14","cfs":157},{"date":"2015-05-15","cfs":157},{"date":"2015-05-17","cfs":162},{"date":"2015-05-19","cfs":190},{"date":"2015-05-20","cfs":166},{"date":"2015-05-21","cfs":195},{"date":"2015-05-23","cfs":200},{"date":"2015-05-24","cfs":190},{"date":"2015-05-26","cfs":166},{"date":"2015-05-28","cfs":145},{"date":"2015-05-30","cfs":130},{"date":"2015-05-31","cfs":124},
      {"date":"2015-06-01","cfs":135},{"date":"2015-06-02","cfs":133},{"date":"2015-06-04","cfs":124},{"date":"2015-06-06","cfs":107},{"date":"2015-06-07","cfs":99},{"date":"2015-06-09","cfs":91},{"date":"2015-06-10","cfs":86},{"date":"2015-06-11","cfs":81},{"date":"2015-06-13","cfs":78},{"date":"2015-06-14","cfs":74},{"date":"2015-06-15","cfs":70},{"date":"2015-06-16","cfs":67},{"date":"2015-06-17","cfs":64},{"date":"2015-06-19","cfs":61},{"date":"2015-06-20","cfs":59},{"date":"2015-06-22","cfs":56},{"date":"2015-06-24","cfs":53},{"date":"2015-06-26","cfs":51},{"date":"2015-06-27","cfs":50},{"date":"2015-06-29","cfs":46},{"date":"2015-06-30","cfs":44},
      {"date":"2015-07-02","cfs":42},{"date":"2015-07-03","cfs":40},{"date":"2015-07-04","cfs":38.5},{"date":"2015-07-05","cfs":37.5},{"date":"2015-07-07","cfs":38.5},{"date":"2015-07-08","cfs":37.5},{"date":"2015-07-09","cfs":38.5},{"date":"2015-07-11","cfs":38.5},{"date":"2015-07-13","cfs":36.6},{"date":"2015-07-14","cfs":35},{"date":"2015-07-15","cfs":33.6},{"date":"2015-07-17","cfs":32.5},{"date":"2015-07-18","cfs":31.5},{"date":"2015-07-20","cfs":30.5},{"date":"2015-07-21","cfs":29.7},{"date":"2015-07-23","cfs":29.7},{"date":"2015-07-24","cfs":30.5},{"date":"2015-07-26","cfs":30.5},{"date":"2015-07-27","cfs":28.5},{"date":"2015-07-29","cfs":26.6},{"date":"2015-07-30","cfs":25.4},
      {"date":"2015-08-01","cfs":24.3},{"date":"2015-08-02","cfs":24.8},{"date":"2015-08-03","cfs":24.3},{"date":"2015-08-05","cfs":23.2},{"date":"2015-08-06","cfs":23.2},{"date":"2015-08-08","cfs":23.2},{"date":"2015-08-09","cfs":22.6},{"date":"2015-08-11","cfs":22.6},{"date":"2015-08-12","cfs":21.9},{"date":"2015-08-13","cfs":21.9},{"date":"2015-08-15","cfs":22.5},{"date":"2015-08-16","cfs":23},{"date":"2015-08-18","cfs":22},{"date":"2015-08-20","cfs":20},{"date":"2015-08-22","cfs":20},{"date":"2015-08-24","cfs":20},{"date":"2015-08-26","cfs":20},{"date":"2015-08-27","cfs":19},{"date":"2015-08-28","cfs":23},{"date":"2015-08-29","cfs":36.6},{"date":"2015-08-30","cfs":59},{"date":"2015-08-31","cfs":42},
      {"date":"2015-09-01","cfs":34},{"date":"2015-09-02","cfs":42},{"date":"2015-09-03","cfs":40},{"date":"2015-09-04","cfs":37},{"date":"2015-09-06","cfs":33.6},{"date":"2015-09-07","cfs":31.5},{"date":"2015-09-09","cfs":28.6},{"date":"2015-09-11","cfs":26},{"date":"2015-09-12","cfs":24.3},{"date":"2015-09-14","cfs":24.3},{"date":"2015-09-15","cfs":24.8},{"date":"2015-09-16","cfs":60},{"date":"2015-09-17","cfs":133},{"date":"2015-09-18","cfs":100},{"date":"2015-09-19","cfs":62},{"date":"2015-09-20","cfs":45},{"date":"2015-09-21","cfs":38.5},{"date":"2015-09-22","cfs":35},{"date":"2015-09-24","cfs":33.6},{"date":"2015-09-25","cfs":32},{"date":"2015-09-27","cfs":29.7},{"date":"2015-09-28","cfs":28.6},{"date":"2015-09-30","cfs":28}
    ],
    "flow2021": [
      {"date":"2014-10-01","cfs":81,"seg":1},{"date":"2014-10-02","cfs":75,"seg":1},{"date":"2014-10-03","cfs":70,"seg":1},{"date":"2014-10-04","cfs":66,"seg":1},{"date":"2014-10-05","cfs":62,"seg":1},{"date":"2014-10-06","cfs":60,"seg":1},{"date":"2014-10-07","cfs":58,"seg":1},
      {"date":"2014-10-11","cfs":508,"seg":2},{"date":"2014-10-12","cfs":2000,"seg":2},{"date":"2014-10-13","cfs":3000,"seg":2},{"date":"2014-10-14","cfs":2700,"seg":2},{"date":"2014-10-15","cfs":1500,"seg":2},{"date":"2014-10-16","cfs":766,"seg":2},{"date":"2014-10-17","cfs":468,"seg":2},{"date":"2014-10-18","cfs":356,"seg":2},{"date":"2014-10-19","cfs":365,"seg":2},{"date":"2014-10-20","cfs":310,"seg":2},{"date":"2014-10-21","cfs":286,"seg":2},{"date":"2014-10-23","cfs":218,"seg":2},{"date":"2014-10-24","cfs":279,"seg":2},{"date":"2014-10-25","cfs":270,"seg":2},{"date":"2014-10-26","cfs":256,"seg":2},{"date":"2014-10-27","cfs":206,"seg":2},{"date":"2014-10-29","cfs":180,"seg":2},{"date":"2014-10-31","cfs":166,"seg":2},{"date":"2014-11-01","cfs":149,"seg":2},{"date":"2014-11-02","cfs":141,"seg":2},{"date":"2014-11-03","cfs":137,"seg":2},{"date":"2014-11-04","cfs":137,"seg":2},{"date":"2014-11-05","cfs":376,"seg":2},{"date":"2014-11-06","cfs":1700,"seg":2},{"date":"2014-11-07","cfs":1000,"seg":2},{"date":"2014-11-08","cfs":766,"seg":2},{"date":"2014-11-09","cfs":551,"seg":2},{"date":"2014-11-10","cfs":494,"seg":2},{"date":"2014-11-11","cfs":535,"seg":2}
    ]
  },
  "layer": [
    {
      "data": {"name": "maxflow"},
      "mark": {"type": "area", "stroke": "#4a7ebb", "strokeWidth": 2.2, "fill": {"gradient": "linear", "x1": 0, "y1": 0, "x2": 0, "y2": 1, "stops": [{"offset": 0, "color": "#4a79b8"}, {"offset": 0.11, "color": "#6891c7"}, {"offset": 0.33, "color": "#9cb8de"}, {"offset": 0.56, "color": "#c9d8ef"}, {"offset": 0.72, "color": "#e4ecf8"}, {"offset": 1, "color": "#ffffff"}]}},
      "encoding": {
        "x": {"field": "date", "type": "temporal",
          "scale": {"type": "utc", "domain": [{"year": 2014, "month": 10, "date": 1, "utc": true}, {"year": 2015, "month": 9, "date": 30, "utc": true}]},
          "axis": {"values": [{"year":2014,"month":10,"date":1,"utc":true},{"year":2014,"month":11,"date":1,"utc":true},{"year":2014,"month":12,"date":1,"utc":true},{"year":2015,"month":1,"date":1,"utc":true},{"year":2015,"month":2,"date":1,"utc":true},{"year":2015,"month":3,"date":1,"utc":true},{"year":2015,"month":4,"date":1,"utc":true},{"year":2015,"month":5,"date":1,"utc":true},{"year":2015,"month":6,"date":1,"utc":true},{"year":2015,"month":7,"date":1,"utc":true},{"year":2015,"month":8,"date":1,"utc":true},{"year":2015,"month":9,"date":1,"utc":true}],
            "labelExpr": "utcFormat(datum.value, '%-d-%b')", "labelFlush": false, "labelOverlap": false, "labelFontSize": 26, "labelPadding": 14, "tickSize": 11, "grid": false,
            "title": "Date", "titleFontSize": 25, "titleX": 828, "titleY": 89, "titleBaseline": "middle", "titleAlign": "center", "titleAngle": 0, "zindex": 1}},
        "y": {"field": "cfs", "type": "quantitative",
          "scale": {"type": "log", "domain": [1, 100000]},
          "axis": {"orient": "right", "values": [10, 100, 1000, 10000], "grid": true, "gridColor": "#8a8a8a", "gridWidth": 1.8, "domain": false, "ticks": false, "labels": false, "title": null, "maxExtent": 0, "minExtent": 0, "zindex": 0}},
        "y2": {"datum": 1}
      }
    },
    {
      "data": {"name": "minflow"},
      "mark": {"type": "area", "fill": "white", "stroke": "#c9d8ee", "strokeWidth": 2},
      "encoding": {
        "x": {"field": "date", "type": "temporal"},
        "y": {"field": "cfs", "type": "quantitative", "axis": null},
        "y2": {"datum": 1}
      }
    },
    {
      "data": {"name": "maxflow"},
      "mark": {"type": "line", "strokeWidth": 2.2, "strokeJoin": "round"},
      "encoding": {
        "x": {"field": "date", "type": "temporal"},
        "y": {"field": "cfs", "type": "quantitative",
          "axis": {"orient": "left", "values": [1,2,3,4,5,6,7,8,9,10,20,30,40,50,60,70,80,90,100,200,300,400,500,600,700,800,900,1000,2000,3000,4000,5000,6000,7000,8000,9000,10000,20000,30000,40000,50000,60000,70000,80000,90000,100000],
            "format": ",", "labelExpr": "indexof([1,10,100,1000,10000,100000], datum.value) >= 0 ? datum.label : ''",
            "labelOverlap": false, "labelFontSize": 25, "labelPadding": 12, "tickSize": 8, "grid": false,
            "title": "CFS", "titleFontSize": 24, "titleX": -101, "titleY": 578, "titleAngle": 270, "titleBaseline": "middle", "titleAlign": "center", "zindex": 1}},
        "color": {"datum": "1981-2010 Max/Min Mean Daily Flow", "type": "nominal", "scale": {"range": ["#4a7ebb"]},
          "legend": {"title": null, "orient": "none", "legendX": 74, "legendY": 825, "symbolType": "M-1,-0.27H1V0.27H-1Z", "symbolFillColor": "#a8c1e3", "symbolStrokeWidth": 2.5}}
      }
    },
    {
      "data": {"name": "meanflow"},
      "mark": {"type": "line", "strokeWidth": 5, "strokeDash": [12, 12], "strokeCap": "round", "strokeJoin": "round"},
      "encoding": {
        "x": {"field": "date", "type": "temporal"},
        "y": {"field": "cfs", "type": "quantitative", "axis": null},
        "color": {"datum": "1981-2010 Mean Daily Flow", "type": "nominal", "scale": {"range": ["#1f497d"]},
          "legend": {"title": null, "orient": "none", "legendX": 74, "legendY": 894, "symbolType": "stroke", "symbolDash": [16, 8], "symbolStrokeWidth": 5}}
      }
    },
    {
      "data": {"name": "flow2015"},
      "mark": {"type": "line", "strokeWidth": 4, "strokeJoin": "round"},
      "encoding": {
        "x": {"field": "date", "type": "temporal"},
        "y": {"field": "cfs", "type": "quantitative", "axis": null},
        "color": {"datum": "2015 Mean Daily Flow", "type": "nominal", "scale": {"range": ["#f79646"]},
          "legend": {"title": null, "orient": "none", "legendX": 74, "legendY": 962, "symbolType": "stroke", "symbolStrokeWidth": 4}}
      }
    },
    {
      "data": {"name": "flow2021"},
      "mark": {"type": "line", "strokeWidth": 6, "strokeJoin": "round"},
      "encoding": {
        "x": {"field": "date", "type": "temporal"},
        "y": {"field": "cfs", "type": "quantitative", "axis": null},
        "detail": {"field": "seg", "type": "nominal"},
        "color": {"datum": "2021 Mean Daily Flow", "type": "nominal", "scale": {"range": ["#c00000"]},
          "legend": {"title": null, "orient": "none", "legendX": 74, "legendY": 1031, "symbolType": "stroke", "symbolStrokeWidth": 6}}
      }
    }
  ]
}
